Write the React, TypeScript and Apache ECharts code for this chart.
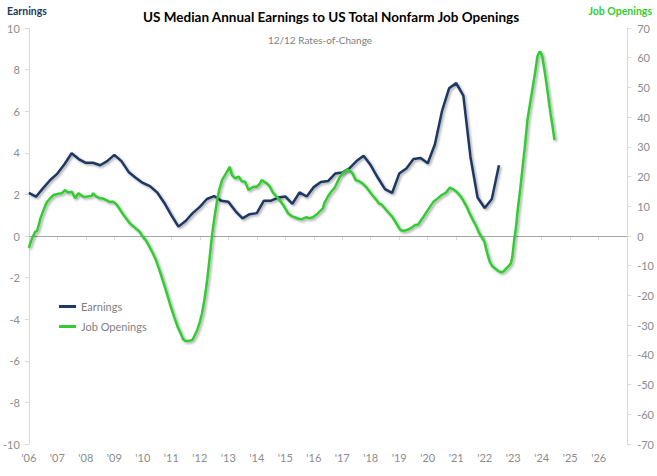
import React, { useEffect, useRef } from "react";
import * as echarts from "echarts";

// Quarterly median earnings, % y/y, starting Q1 2006
const earningsStartYear = 2006;
const earningsValues = [
  2.07, 1.89, 2.3, 2.69, 3.0, 3.45, 3.98, 3.7, 3.52, 3.52, 3.4, 3.6, 3.9, 3.6, 3.08, 2.8,
  2.55, 2.4, 2.1, 1.6, 1.0, 0.45, 0.72, 1.1, 1.4, 1.78, 1.92, 1.7, 1.65, 1.2, 0.85, 1.05,
  1.1, 1.7, 1.7, 1.85, 1.9, 1.55, 2.1, 1.9, 2.35, 2.6, 2.64, 3.0, 3.05, 3.25, 3.6, 3.86,
  3.4, 2.8, 2.25, 2.07, 3.0, 3.25, 3.7, 3.75, 3.5, 4.4, 6.0, 7.1, 7.35, 6.75, 3.8, 1.85,
  1.35, 1.78, 3.4,
];

// Job openings % y/y (dates in decimal years)
const jobDates = [
  2006.0, 2006.11, 2006.23, 2006.29, 2006.41, 2006.58, 2006.64, 2006.75, 2006.87, 2007.04,
  2007.16, 2007.28, 2007.33, 2007.39, 2007.51, 2007.62, 2007.74, 2007.91, 2008.05, 2008.2,
  2008.26, 2008.36, 2008.49, 2008.61, 2008.72, 2008.82, 2008.96, 2009.06, 2009.13, 2009.3,
  2009.54, 2009.77, 2009.88, 2010.0, 2010.11, 2010.23, 2010.35, 2010.46, 2010.62, 2010.81,
  2010.95, 2011.1, 2011.22, 2011.33, 2011.42, 2011.5, 2011.62, 2011.74, 2011.82, 2011.91,
  2012.0, 2012.08, 2012.17, 2012.26, 2012.35, 2012.43, 2012.52, 2012.61, 2012.69, 2012.78,
  2012.92, 2013.05, 2013.13, 2013.24, 2013.36, 2013.48, 2013.59, 2013.71, 2013.88, 2014.0,
  2014.1, 2014.17, 2014.35, 2014.46, 2014.58, 2014.75, 2014.93, 2015.1, 2015.21, 2015.33,
  2015.46, 2015.56, 2015.74, 2015.84, 2015.97, 2016.14, 2016.32, 2016.37, 2016.49, 2016.61,
  2016.72, 2016.89, 2017.02, 2017.19, 2017.27, 2017.36, 2017.47, 2017.58, 2017.71, 2017.88,
  2018.05, 2018.17, 2018.28, 2018.38, 2018.52, 2018.62, 2018.75, 2018.9, 2019.04, 2019.14,
  2019.27, 2019.42, 2019.56, 2019.67, 2019.73, 2019.84, 2019.97, 2020.08, 2020.2, 2020.33,
  2020.49, 2020.64, 2020.78, 2020.88, 2021.01, 2021.13, 2021.24, 2021.36, 2021.47, 2021.58,
  2021.71, 2021.79, 2021.88, 2021.99, 2022.08, 2022.17, 2022.27, 2022.4, 2022.48, 2022.58,
  2022.66, 2022.75, 2022.83, 2022.92, 2022.97, 2023.04, 2023.1, 2023.15, 2023.25, 2023.33,
  2023.42, 2023.5, 2023.59, 2023.67, 2023.77, 2023.85, 2023.91, 2023.94, 2023.98, 2024.02,
  2024.12, 2024.2, 2024.25, 2024.31, 2024.38, 2024.45,
];
const jobValues = [
  -4.0, -0.8, 1.45, 1.7, 6.0, 10.4, 11.5, 12.7, 13.8, 14.2,
  14.4, 15.5, 14.9, 14.6, 14.9, 12.7, 14.4, 13.2, 13.3, 13.5,
  14.4, 13.3, 12.7, 12.6, 12.1, 11.5, 11.5, 10.8, 9.9, 7.4,
  4.3, 2.4, 1.5, -0.2, -1.5, -3.6, -5.8, -8.1, -12.5, -18.2,
  -22.8, -27.2, -30.5, -32.8, -34.8, -35.3, -35.3, -35.0, -33.5, -31.6,
  -29.0, -26.0, -21.0, -14.8, -7.0, 0.3, 6.5, 12.1, 15.8, 18.8,
  21.1, 23.3, 20.5, 19.4, 20.0, 18.3, 18.3, 15.5, 16.6, 16.6,
  17.5, 18.8, 17.7, 16.6, 14.4, 12.7, 10.4, 7.6, 6.8, 6.3,
  5.8, 5.6, 6.3, 6.0, 6.3, 7.6, 9.3, 11.0, 13.2, 14.9,
  16.0, 19.4, 21.2, 22.4, 21.8, 21.1, 18.8, 18.5, 17.7, 16.0,
  13.8, 12.5, 11.0, 10.6, 9.0, 7.9, 6.5, 4.2, 2.0, 1.7,
  2.0, 2.7, 3.7, 3.9, 4.8, 6.3, 8.2, 9.8, 11.5, 12.5,
  13.8, 14.6, 16.3, 15.8, 14.9, 13.6, 12.1, 10.0, 7.6, 5.5,
  3.1, 1.3, -0.2, -1.9, -5.5, -8.5, -10.2, -11.2, -11.8, -12.2,
  -11.9, -11.0, -10.2, -9.2, -7.0, -1.0, 3.0, 8.0, 16.0, 23.0,
  31.0, 39.0, 44.5, 49.1, 55.0, 60.4, 61.8, 62.0, 61.5, 60.4,
  54.5, 49.1, 45.5, 41.3, 37.0, 32.3,
];

const xTickLabels = [
  "'06", "'07", "'08", "'09", "'10", "'11", "'12", "'13", "'14", "'15", "'16",
  "'17", "'18", "'19", "'20", "'21", "'22", "'23", "'24", "'25", "'26",
];

const NAVY = "#1f3864";
const GREEN = "#33cc33";
const FONT = "Lato, 'Open Sans', sans-serif";

export default function App() {
  const ref = useRef<HTMLDivElement>(null);

  useEffect(() => {
    if (!ref.current) return;
    const chart = echarts.init(ref.current, null, { renderer: "svg" });
    const earningsData = earningsValues.map((v, i) => [earningsStartYear + i / 4, v]);
    const jobData = jobValues.map((v, i) => [jobDates[i], v]);
    const shadow = {
      shadowColor: "rgba(0,0,0,0.35)",
      shadowBlur: 2,
      shadowOffsetX: 1.5,
      shadowOffsetY: 1.5,
    };
    chart.setOption({
      animation: false,
      backgroundColor: "#ffffff",
      textStyle: { fontFamily: FONT },
      grid: { left: 25, right: 28, top: 28, bottom: 32, containLabel: false },
      legend: {
        orient: "vertical",
        left: 54,
        top: 296,
        itemGap: 9,
        itemWidth: 17,
        itemHeight: 3,
        icon: "rect",
        textStyle: { color: "#7f7f7f", fontSize: 11, fontFamily: FONT },
        data: ["Earnings", "Job Openings"],
      },
      graphic: [
        {
          type: "text",
          left: 333 - 190,
          top: 10,
          style: {
            text: "US Median Annual Earnings to US Total Nonfarm Job Openings",
            fontFamily: FONT,
            fontWeight: "bold",
            fontSize: 13.5,
            fill: "#000000",
          },
          z: 10,
        },
        {
          type: "text",
          x: 320,
          y: 40,
          style: {
            text: "12/12 Rates-of-Change",
            fontFamily: FONT,
            fontSize: 10,
            fill: "#808080",
            align: "center",
            verticalAlign: "middle",
          },
        },
        {
          type: "text",
          x: 7,
          y: 11,
          style: {
            text: "Earnings",
            fontFamily: FONT,
            fontWeight: "bold",
            fontSize: 10.5,
            fill: NAVY,
            verticalAlign: "middle",
          },
        },
        {
          type: "text",
          x: 652,
          y: 11,
          style: {
            text: "Job Openings",
            fontFamily: FONT,
            fontWeight: "bold",
            fontSize: 10.5,
            fill: GREEN,
            align: "right",
            verticalAlign: "middle",
          },
        },
      ],
      xAxis: {
        type: "value",
        min: 2006,
        max: 2027,
        interval: 1,
        axisLine: { show: true, lineStyle: { color: "#d9d9d9" } },
        axisTick: { show: true, length: 4, lineStyle: { color: "#d9d9d9" } },
        splitLine: { show: false },
        axisLabel: {
          color: "#8c8c8c",
          fontSize: 11,
          margin: 8,
          fontFamily: FONT,
          formatter: (v: number) => xTickLabels[Math.round(v) - 2006] ?? "",
        },
      },
      yAxis: [
        {
          type: "value",
          min: -10,
          max: 10,
          interval: 2,
          position: "left",
          axisLine: { show: true, lineStyle: { color: "#d9d9d9" } },
          axisTick: { show: true, length: 4, lineStyle: { color: "#d9d9d9" } },
          splitLine: { show: false },
          axisLabel: { color: "#8c8c8c", fontSize: 11, margin: 9, fontFamily: FONT },
        },
        {
          type: "value",
          min: -70,
          max: 70,
          interval: 10,
          position: "right",
          axisLine: { show: true, lineStyle: { color: "#d9d9d9" } },
          axisTick: { show: true, length: 4, lineStyle: { color: "#d9d9d9" } },
          splitLine: { show: false },
          axisLabel: { color: "#8c8c8c", fontSize: 11, margin: 10, fontFamily: FONT },
        },
      ],
      series: [
        {
          name: "Earnings",
          type: "line",
          yAxisIndex: 0,
          data: earningsData,
          showSymbol: false,
          symbol: "none",
          color: NAVY,
          lineStyle: { color: NAVY, width: 2.5, ...shadow },
          z: 3,
          markLine: {
            silent: true,
            symbol: "none",
            label: { show: false },
            lineStyle: { color: "#a6a6a6", width: 1, type: "solid" },
            data: [{ yAxis: 0 }],
            z: 1,
          },
        },
        {
          name: "Job Openings",
          type: "line",
          yAxisIndex: 1,
          data: jobData,
          showSymbol: false,
          symbol: "none",
          color: GREEN,
          lineStyle: { color: GREEN, width: 2.5, ...shadow },
          z: 4,
        },
      ],
    });
    return () => chart.dispose();
  }, []);

  return <div ref={ref} style={{ width: 657, height: 476, position: "absolute", left: 0, top: 0 }} />;
}
